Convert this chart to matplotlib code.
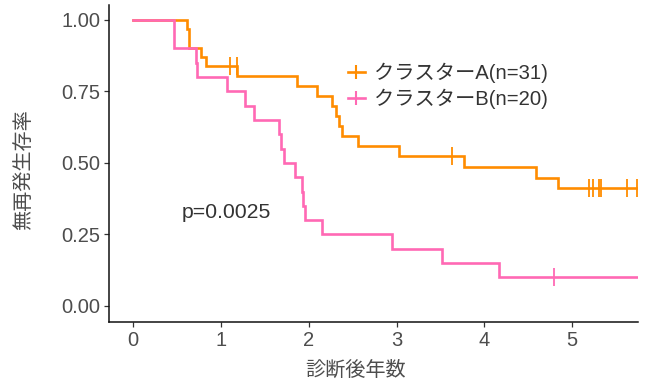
import matplotlib
matplotlib.use("Agg")
import matplotlib.pyplot as plt
from matplotlib.lines import Line2D

plt.rcParams['font.family'] = ['Liberation Sans', 'Noto Sans CJK JP']

# --- data ---
a_times = [0, 0.615, 0.634, 0.771, 0.836, 1.185, 1.872, 2.098, 2.269, 2.309, 2.348, 2.375,
           2.556, 3.026, 3.770, 4.583, 4.840, 5.75]
a_surv = [1.0, 0.968, 0.903, 0.871, 0.839, 0.804, 0.769, 0.734, 0.699, 0.664, 0.629, 0.594,
          0.559, 0.524, 0.487, 0.449, 0.412, 0.412]
a_censor = [1.10, 1.178, 3.633, 5.19, 5.24, 5.31, 5.33, 5.62, 5.74]

b_times = [0, 0.464, 0.714, 0.728, 1.067, 1.28, 1.38, 1.66, 1.679, 1.719, 1.842, 1.921,
           1.938, 1.955, 2.157, 2.95, 3.519, 4.169, 5.75]
b_surv = [1.0, 0.90, 0.85, 0.80, 0.75, 0.70, 0.65, 0.60, 0.55, 0.50, 0.45, 0.40,
          0.35, 0.30, 0.25, 0.20, 0.15, 0.10, 0.10]
b_censor = [4.79]

labels = ['クラスターA(n=31)', 'クラスターB(n=20)']
colors = ['#FF8C00', '#FF69B4']
x_ticks = [0, 1, 2, 3, 4, 5]
y_ticks = [0.00, 0.25, 0.50, 0.75, 1.00]
y_tick_labels = ['0.00', '0.25', '0.50', '0.75', '1.00']
p_text = 'p=0.0025'
x_title = '診断後年数'
y_title = '無再発生存率'


def surv_at(times, surv, t):
    val = surv[0]
    for ti, si in zip(times, surv):
        if ti <= t:
            val = si
    return val


fig = plt.figure(figsize=(6.48, 3.83), dpi=100)
ax = fig.add_axes([109 / 648, 1 - 321.7 / 383, (638 - 109) / 648, (321.7 - 5) / 383])

for times, surv, cens, col in [(a_times, a_surv, a_censor, colors[0]),
                               (b_times, b_surv, b_censor, colors[1])]:
    ax.step(times, surv, where='post', color=col, lw=1.9, solid_joinstyle='miter')
    cy = [surv_at(times, surv, c) for c in cens]
    ax.plot(cens, cy, ls='none', marker='|', ms=13, mew=1.3, color=col)

ax.set_xlim(-0.274, 5.75)
ax.set_ylim(-0.055, 1.052)
ax.set_xticks(x_ticks)
ax.set_yticks(y_ticks)
ax.set_yticklabels(y_tick_labels)

for s in ['top', 'right']:
    ax.spines[s].set_visible(False)
for s in ['left', 'bottom']:
    ax.spines[s].set_linewidth(1.1)
    ax.spines[s].set_color('#111111')

ax.tick_params(axis='both', labelsize=14.5, labelcolor='#4D4D4D', color='#333333',
               length=3.5, width=0.9)
ax.tick_params(axis='y', pad=2.5)
ax.tick_params(axis='x', pad=3)

ax.text(0.555, 0.325, p_text, fontsize=15.3, color='#333333', ha='left', va='center')

handles = [Line2D([], [], color=c, lw=1.9, marker='|', ms=10, mew=1.5) for c in colors]
leg = ax.legend(handles, labels, loc='center left', bbox_to_anchor=(0.451, 0.745),
                frameon=False, fontsize=14.6, handlelength=0.85, handletextpad=0.45,
                labelspacing=0.25, borderaxespad=0, borderpad=0)
for t in leg.get_texts():
    t.set_color('#333333')

fig.text(24 / 648, 1 - 170 / 383, y_title, rotation=90, ha='center', va='center',
         fontsize=14.5, color='#4D4D4D')
fig.text(356 / 648, 1 - 370 / 383, x_title, ha='center', va='center',
         fontsize=14.5, color='#4D4D4D')

fig.savefig('out.png', dpi=100)
